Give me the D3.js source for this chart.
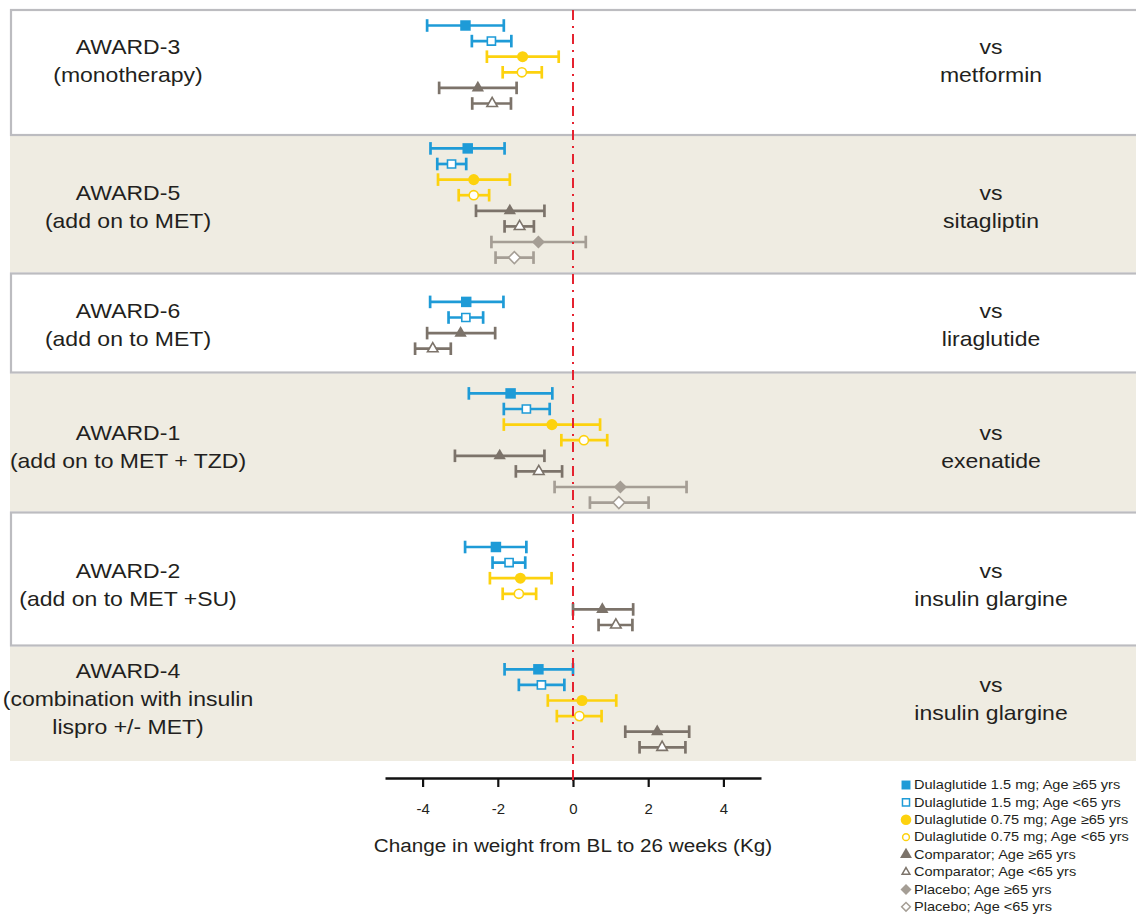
<!DOCTYPE html>
<html>
<head>
<meta charset="utf-8">
<script src="https://cdn.jsdelivr.net/npm/d3@7"></script>
<style>
  html, body { margin: 0; padding: 0; background: #ffffff; }
  svg { display: block; }
  text { font-family: "Liberation Sans", Arial, Helvetica, sans-serif; fill: #231f20; }
</style>
</head>
<body>
<svg id="chart" width="1136" height="917"></svg>
<script>
// ---------------- DATA ----------------
const trials = ["AWARD-3", "AWARD-5", "AWARD-6", "AWARD-1", "AWARD-2", "AWARD-4"];
const trialDesigns = [
  ["(monotherapy)"],
  ["(add on to MET)"],
  ["(add on to MET)"],
  ["(add on to MET + TZD)"],
  ["(add on to MET +SU)"],
  ["(combination with insulin", "lispro +/- MET)"]
];
const comparators = ["metformin", "sitagliptin", "liraglutide", "exenatide", "insulin glargine", "insulin glargine"];

// Each entry: [mean, lower CI, upper CI] for each trial (null = not in trial)
const dula15Old = [[-2.86, -3.88, -1.84], [-2.80, -3.79, -1.82], [-2.84, -3.80, -1.85], [-1.66, -2.77, -0.55], [-2.05, -2.87, -1.24], [-0.92, -1.82, 0.00]];
const dula15Young = [[-2.17, -2.69, -1.64], [-3.23, -3.61, -2.84], [-2.85, -3.31, -2.39], [-1.24, -1.84, -0.62], [-1.70, -2.14, -1.27], [-0.84, -1.44, -0.23]];
const dula075Old = [[-1.34, -2.29, -0.38], [-2.64, -3.59, -1.68], null, [-0.56, -1.84, 0.72], [-1.40, -2.21, -0.57], [0.24, -0.67, 1.15]];
const dula075Young = [[-1.36, -1.87, -0.83], [-2.64, -3.04, -2.23], null, [0.29, -0.31, 0.91], [-1.44, -1.87, -0.98], [0.17, -0.43, 0.76]];
const comparatorOld = [[-2.53, -3.56, -1.50], [-1.68, -2.58, -0.76], [-2.99, -3.88, -2.07], [-1.95, -3.14, -0.76], [0.78, 0.00, 1.60], [2.24, 1.39, 3.09]];
const comparatorYoung = [[-2.15, -2.68, -1.65], [-1.42, -1.82, -1.04], [-3.73, -4.20, -3.25], [-0.91, -1.52, -0.29], [1.14, 0.68, 1.58], [2.37, 1.77, 2.99]];
const placeboOld = [null, [-0.92, -2.17, 0.34], null, [1.26, -0.49, 3.02], null, null];
const placeboYoung = [null, [-1.56, -2.06, -1.05], null, [1.22, 0.45, 2.01], null, null];

const seriesNames = [
  "Dulaglutide 1.5 mg; Age \u226565 yrs",
  "Dulaglutide 1.5 mg; Age <65 yrs",
  "Dulaglutide 0.75 mg; Age \u226565 yrs",
  "Dulaglutide 0.75 mg; Age <65 yrs",
  "Comparator; Age \u226565 yrs",
  "Comparator; Age <65 yrs",
  "Placebo; Age \u226565 yrs",
  "Placebo; Age <65 yrs"
];
const seriesValues = [dula15Old, dula15Young, dula075Old, dula075Young, comparatorOld, comparatorYoung, placeboOld, placeboYoung];

const xTicks = [-4, -2, 0, 2, 4];
const xTitle = "Change in weight from BL to 26 weeks (Kg)";

// ---------------- STYLE / LAYOUT ----------------
const blue = "#1e9bd7", yellow = "#fdd20e", comp = "#7c736a", plac = "#a59e95";
const seriesStyle = [
  { color: blue,   shape: "square",   filled: true },
  { color: blue,   shape: "square",   filled: false },
  { color: yellow, shape: "circle",   filled: true },
  { color: yellow, shape: "circle",   filled: false },
  { color: comp,   shape: "triangle", filled: true },
  { color: comp,   shape: "triangle", filled: false },
  { color: plac,   shape: "diamond",  filled: true },
  { color: plac,   shape: "diamond",  filled: false }
];
const markSize = {
  square:   { true: 110, false: 66 },
  circle:   { true: 96,  false: 66 },
  triangle: { true: 66,  false: 48 },
  diamond:  { true: 86,  false: 70 }
};
const legendSize = {
  square:   { true: 80, false: 50 },
  circle:   { true: 88, false: 36 },
  triangle: { true: 62, false: 26 },
  diamond:  { true: 60, false: 38 }
};
// panel boundaries (px), row mid & label mid
const panelEdges = [10, 135, 273.5, 372.5, 512.5, 645.5, 762];
const rowMid = [64.5, 203, 325.3, 448, 586, 708.3];
const labelMid = [61, 207, 325, 447, 585, 699];
const rowStep = 15.6;

const svg = d3.select("#chart");
const x = d3.scaleLinear().domain([-5, 5]).range([385, 761]);

function symbolPath(shape, size) {
  const type = { square: d3.symbolSquare, circle: d3.symbolCircle, triangle: d3.symbolTriangle, diamond: d3.symbolSquare }[shape];
  return d3.symbol().type(type).size(size)();
}

// ---------------- PANELS ----------------
const panelG = svg.append("g");
trials.forEach((t, i) => {
  const y0 = panelEdges[i], y1 = panelEdges[i + 1];
  if (i % 2 === 0) {
    panelG.append("rect")
      .attr("x", 11).attr("y", y0).attr("width", 1200).attr("height", y1 - y0)
      .attr("fill", "#ffffff");
  } else {
    panelG.append("rect")
      .attr("x", 10).attr("y", y0 + 1).attr("width", 1200).attr("height", y1 - y0 - 2)
      .attr("fill", "#efece2");
  }
});
trials.forEach((t, i) => {
  if (i % 2 === 0) {
    const y0 = panelEdges[i], y1 = panelEdges[i + 1];
    panelG.append("rect")
      .attr("x", 11).attr("y", y0).attr("width", 1200).attr("height", y1 - y0)
      .attr("fill", "none").attr("stroke", "#bcbcc0").attr("stroke-width", 2.2);
  }
});

// ---------------- LABELS ----------------
const labG = svg.append("g");
const sxLabel = 1.15;
trials.forEach((t, i) => {
  const lines = [t].concat(trialDesigns[i]);
  const n = lines.length;
  lines.forEach((ln, j) => {
    const yy = labelMid[i] + (j - (n - 1) / 2) * 28;
    labG.append("text")
      .attr("transform", `translate(128,${yy}) scale(${sxLabel},1)`)
      .attr("text-anchor", "middle").attr("dominant-baseline", "central")
      .attr("font-size", 20).text(ln);
  });
  ["vs", comparators[i]].forEach((ln, j) => {
    const yy = labelMid[i] + (j - 0.5) * 28;
    labG.append("text")
      .attr("transform", `translate(991,${yy}) scale(${sxLabel},1)`)
      .attr("text-anchor", "middle").attr("dominant-baseline", "central")
      .attr("font-size", 20).text(ln);
  });
});

// ---------------- ERROR BARS ----------------
const markG = svg.append("g");
trials.forEach((t, i) => {
  const rows = [];
  seriesValues.forEach((vals, s) => { if (vals[i]) rows.push({ s, v: vals[i] }); });
  const n = rows.length;
  const y = d3.scalePoint()
    .domain(rows.map(r => r.s))
    .range([rowMid[i] - (n - 1) / 2 * rowStep, rowMid[i] + (n - 1) / 2 * rowStep]);
  rows.forEach(r => {
    const st = seriesStyle[r.s];
    const yy = y(r.s);
    const [m, lo, hi] = r.v;
    const g = markG.append("g");
    g.append("line").attr("x1", x(lo)).attr("x2", x(hi)).attr("y1", yy).attr("y2", yy)
      .attr("stroke", st.color).attr("stroke-width", 2.7);
    [lo, hi].forEach(e => {
      g.append("line").attr("x1", x(e)).attr("x2", x(e)).attr("y1", yy - 6.3).attr("y2", yy + 6.3)
        .attr("stroke", st.color).attr("stroke-width", 2.7);
    });
    const rot = st.shape === "diamond" ? " rotate(45)" : "";
    g.append("path")
      .attr("d", symbolPath(st.shape, markSize[st.shape][st.filled]))
      .attr("transform", `translate(${x(m)},${yy})${rot}`)
      .attr("fill", st.filled ? st.color : "#ffffff")
      .attr("stroke", st.filled ? "none" : st.color)
      .attr("stroke-width", 1.6);
  });
});

// ---------------- REFERENCE LINE ----------------
svg.append("line")
  .attr("x1", x(0)).attr("x2", x(0)).attr("y1", 10).attr("y2", 781)
  .attr("stroke", "#e52330").attr("stroke-width", 2)
  .attr("stroke-dasharray", "10,6,2,6");

// ---------------- AXIS ----------------
const axisG = svg.append("g").attr("transform", "translate(0,778)")
  .call(d3.axisBottom(x).tickValues(xTicks).tickSize(9).tickSizeOuter(0).tickPadding(17)
    .tickFormat(d => d));
axisG.select(".domain").attr("stroke", "#111").attr("stroke-width", 2.6);
axisG.selectAll(".tick line").attr("stroke", "#111").attr("stroke-width", 2.2);
axisG.selectAll(".tick text")
  .attr("font-size", 14).attr("font-family", "Liberation Sans, Arial, sans-serif")
  .attr("fill", "#231f20").attr("transform", "scale(1.07,1)");
svg.append("line").attr("x1", x(0)).attr("x2", x(0)).attr("y1", 771).attr("y2", 780)
  .attr("stroke", "#e52330").attr("stroke-width", 2);

svg.append("text")
  .attr("transform", `translate(${x(0)},845) scale(1.09,1)`)
  .attr("text-anchor", "middle").attr("dominant-baseline", "central")
  .attr("font-size", 19).text(xTitle);

// ---------------- LEGEND ----------------
const legG = svg.append("g");
seriesNames.forEach((name, s) => {
  const st = seriesStyle[s];
  const yy = 785 + s * 17.4;
  const rot = st.shape === "diamond" ? " rotate(45)" : "";
  legG.append("path")
    .attr("d", symbolPath(st.shape, legendSize[st.shape][st.filled]))
    .attr("transform", `translate(906,${yy})${rot}`)
    .attr("fill", st.filled ? st.color : "#ffffff")
    .attr("stroke", st.filled ? "none" : st.color)
    .attr("stroke-width", st.filled ? 0 : 1.5);
  legG.append("text")
    .attr("transform", `translate(914,${yy}) scale(1.12,1)`)
    .attr("dominant-baseline", "central")
    .attr("font-size", 13).text(name);
});
</script>
</body>
</html>
